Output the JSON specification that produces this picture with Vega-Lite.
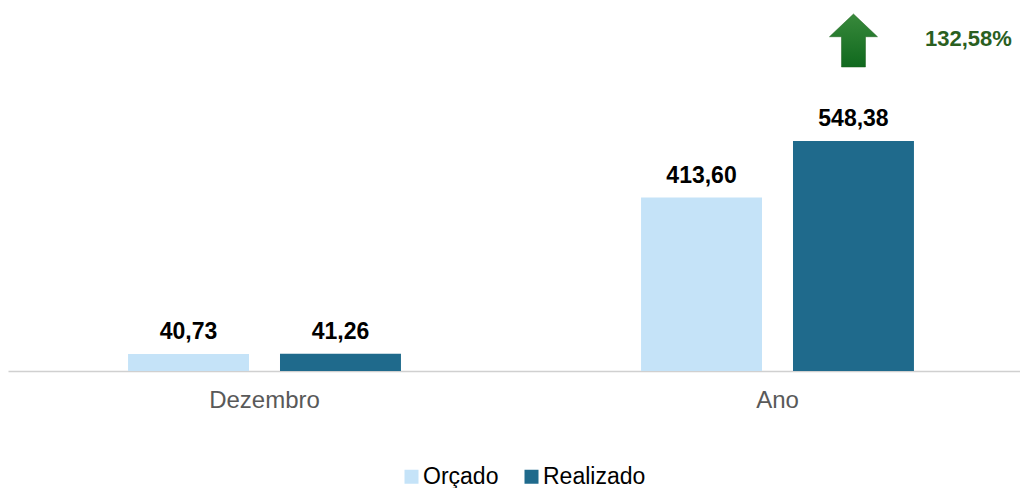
{
  "$schema": "https://vega.github.io/schema/vega-lite/v6.json",
  "autosize": "none",
  "padding": {"left": 8, "top": 0, "right": 0, "bottom": 117},
  "width": 1026,
  "height": 371,
  "config": {
    "view": {"stroke": null},
    "font": "Liberation Sans",
    "locale": {"number": {"decimal": ",", "thousands": ".", "grouping": [3], "currency": ["R$", ""]}}
  },
  "data": {"values": [
    {"periodo": "Dezembro", "serie": "Orçado", "valor": 40.73},
    {"periodo": "Dezembro", "serie": "Realizado", "valor": 41.26},
    {"periodo": "Ano", "serie": "Orçado", "valor": 413.60},
    {"periodo": "Ano", "serie": "Realizado", "valor": 548.38}
  ]},
  "encoding": {
    "x": {
      "field": "periodo", "type": "nominal",
      "scale": {"domain": ["Dezembro", "Ano"], "paddingInner": 0, "paddingOuter": 0},
      "axis": {"title": null, "labelAngle": 0, "ticks": false, "domainColor": "#D0D0D0", "domainWidth": 1.5, "labelFontSize": 24, "labelColor": "#595959", "labelPadding": 17}
    },
    "xOffset": {
      "field": "serie", "type": "nominal",
      "scale": {"domain": ["Orçado", "Realizado"], "paddingInner": 0.204, "paddingOuter": 0.79}
    }
  },
  "layer": [
    {
      "mark": {"type": "bar"},
      "encoding": {
        "y": {"field": "valor", "type": "quantitative", "scale": {"domain": [0, 884.6], "nice": false, "zero": true}, "axis": null},
        "color": {
          "field": "serie", "type": "nominal",
          "scale": {"domain": ["Orçado", "Realizado"], "range": ["#C5E3F8", "#1F6A8C"]},
          "legend": {"orient": "none", "legendX": 392, "legendY": 465, "padding": 0, "direction": "horizontal", "title": null, "symbolType": "square", "symbolSize": 196, "symbolStrokeWidth": 0, "labelFontSize": 23, "labelColor": "#000000", "labelOffset": 0, "columnPadding": 21}
        }
      }
    },
    {
      "mark": {"type": "text", "fontSize": 23, "fontWeight": "bold", "dy": -15, "baseline": "alphabetic", "color": "#000000"},
      "encoding": {
        "y": {"field": "valor", "type": "quantitative", "scale": {"domain": [0, 884.6], "nice": false}},
        "text": {"field": "valor", "type": "quantitative", "format": ".2f"}
      }
    },
    {
      "transform": [{"filter": "datum.periodo == 'Ano' && datum.serie == 'Realizado'"}],
      "mark": {
        "type": "point",
        "shape": "M0,-1L0.906,-0.143L0.453,-0.143L0.453,1L-0.453,1L-0.453,-0.143L-0.906,-0.143Z",
        "size": 2809,
        "filled": true,
        "opacity": 1,
        "dx": -2,
        "fill": {"gradient": "linear", "x1": 0, "y1": 0, "x2": 0, "y2": 1, "stops": [{"offset": 0, "color": "#38893B"}, {"offset": 1, "color": "#10691E"}]},
        "stroke": "#1A5E1A",
        "strokeWidth": 0.5
      },
      "encoding": {
        "y": {"datum": 788, "type": "quantitative", "scale": {"domain": [0, 884.6], "nice": false}}
      }
    },
    {
      "transform": [{"filter": "datum.periodo == 'Ano' && datum.serie == 'Realizado'"}],
      "mark": {"type": "text", "fontSize": 22, "fontWeight": "bold", "color": "#2A5F1F", "align": "center", "baseline": "middle", "dx": 115},
      "encoding": {
        "y": {"datum": 791, "type": "quantitative", "scale": {"domain": [0, 884.6], "nice": false}},
        "text": {"value": "132,58%"}
      }
    }
  ]
}
